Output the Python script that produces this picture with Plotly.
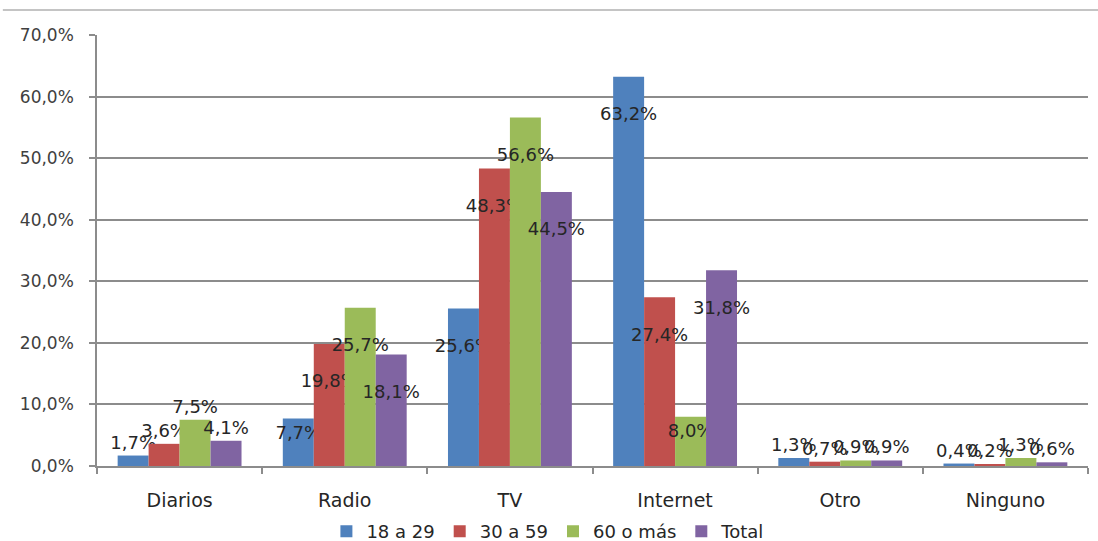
import plotly.graph_objects as go

# Medio de información principal, por tramo de edad (%)
categories = ["Diarios", "Radio", "TV", "Internet", "Otro", "Ninguno"]
series_names = ["18 a 29", "30 a 59", "60 o más", "Total"]
values_18_29 = [1.7, 7.7, 25.6, 63.2, 1.3, 0.4]
values_30_59 = [3.6, 19.8, 48.3, 27.4, 0.7, 0.2]
values_60_mas = [7.5, 25.7, 56.6, 8.0, 0.9, 1.3]
values_total = [4.1, 18.1, 44.5, 31.8, 0.9, 0.6]
y_ticks = [0, 10, 20, 30, 40, 50, 60, 70]
y_tick_labels = [f"{v:.1f}%".replace(".", ",") for v in y_ticks]

colors = ["#4F81BD", "#C0504D", "#9BBB59", "#8064A2"]
series_values = [values_18_29, values_30_59, values_60_mas, values_total]

# label placement per category: small groups above the bar, the rest inside below the top
label_pos = ["outside", "inside", "inside", "inside", "outside", "outside"]


def label_templates(vals):
    out = []
    for p, v in zip(label_pos, vals):
        if p == "outside" or v < 10:
            out.append("%{y:.1f}%")
        else:
            # spacer line pushes the label further down into tall bars
            out.append("\u00a0<br>%{y:.1f}%")
    return out


FONT = "DejaVu Sans"
LABEL_COLOR = "#262626"

fig = go.Figure()
for name, vals, col in zip(series_names, series_values, colors):
    fig.add_trace(go.Bar(
        x=categories,
        y=vals,
        name=name,
        marker=dict(color=col, line=dict(width=0)),
        texttemplate=label_templates(vals),
        textposition=label_pos,
        insidetextanchor="end",
        textangle=0,
        constraintext="none",
        cliponaxis=False,
        insidetextfont=dict(family=FONT, size=18, color=LABEL_COLOR),
        outsidetextfont=dict(family=FONT, size=18, color=LABEL_COLOR),
        hoverinfo="skip",
    ))

fig.update_layout(
    width=1098,
    height=541,
    margin=dict(l=97, r=10, t=35, b=75, autoexpand=False),
    paper_bgcolor="white",
    plot_bgcolor="white",
    separators=", ",
    barmode="group",
    bargap=0.25,
    bargroupgap=0,
    font=dict(family=FONT, size=17, color="#404040"),
    showlegend=True,
    legend=dict(
        orientation="h",
        x=0.455, xanchor="center",
        y=-0.109, yanchor="top",
        font=dict(family=FONT, size=18, color="#262626"),
        itemwidth=30,
        tracegroupgap=0,
        bgcolor="rgba(0,0,0,0)",
    ),
    xaxis=dict(
        type="category",
        showgrid=False,
        showline=True,
        linecolor="#8c8c8c",
        linewidth=1.5,
        ticks="outside",
        tickson="boundaries",
        ticklen=6,
        tickcolor="#8c8c8c",
        tickwidth=1.5,
        ticklabelstandoff=16,
        tickfont=dict(family=FONT, size=19, color="#262626"),
        zeroline=False,
        automargin=False,
    ),
    yaxis=dict(
        range=[0, 70],
        tickvals=y_ticks,
        ticktext=y_tick_labels,
        showgrid=True,
        gridcolor="#8c8c8c",
        gridwidth=1.5,
        showline=True,
        linecolor="#8c8c8c",
        linewidth=1.5,
        ticks="outside",
        ticklen=6,
        tickcolor="#8c8c8c",
        tickwidth=1.5,
        ticklabelstandoff=12,
        tickfont=dict(family=FONT, size=17, color="#404040"),
        zeroline=False,
        automargin=False,
    ),
    shapes=[dict(
        type="line", xref="paper", yref="paper",
        x0=-0.095, x1=1.011, y0=1.058, y1=1.058,
        line=dict(color="#b0b0b0", width=1.5),
    )],
)

fig.write_html("out.html")
